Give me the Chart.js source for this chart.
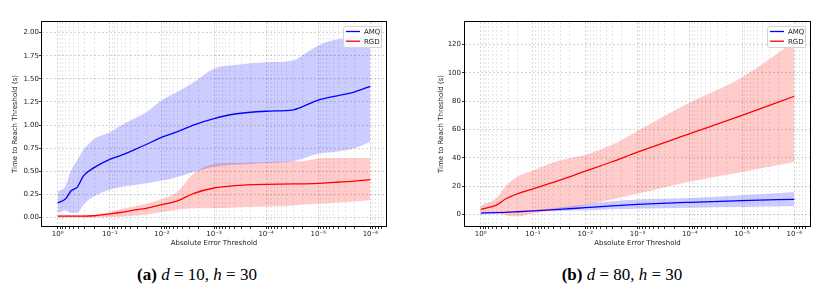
<!DOCTYPE html>
<html>
<head>
<meta charset="utf-8">
<script src="https://cdn.jsdelivr.net/npm/chart.js@4.4.0/dist/chart.umd.min.js"></script>
<style>
  body { margin: 0; background: #fff; width: 827px; height: 291px; position: relative; overflow: hidden; }
  canvas { position: absolute; top: 0; }
  #ca { left: 0; }
  #cb { left: 414px; }
  .cap { position: absolute; top: 265px; font-family: "Liberation Serif", "Times New Roman", serif; font-size: 17px;
         line-height: 20px; white-space: nowrap; transform: translateX(-50%); color: #000; }
</style>
</head>
<body>
<canvas id="ca" width="414" height="258"></canvas>
<canvas id="cb" width="413" height="258"></canvas>
<div class="cap" style="left:197px"><b>(a)</b> <i>d</i> = 10, <i>h</i> = 30</div>
<div class="cap" style="left:622px"><b>(b)</b> <i>d</i> = 80, <i>h</i> = 30</div>
<script>
// ---- data: panel (a) d=10 ----
const thrA = [1, 0.71, 0.55, 0.42, 0.32, 0.2, 0.1, 0.063, 0.035, 0.02, 0.01, 0.005, 0.0025, 0.001,
  0.0004, 1e-4, 3e-5, 2.2e-5, 1e-5, 5e-6, 2e-6, 1e-6];
const amqMeanA = [0.16, 0.2, 0.29, 0.33, 0.45, 0.54, 0.63, 0.67, 0.73, 0.79, 0.87, 0.93, 1.0, 1.07,
  1.12, 1.15, 1.165, 1.19, 1.27, 1.31, 1.36, 1.42];
const amqHiA = [0.28, 0.34, 0.51, 0.62, 0.73, 0.85, 0.92, 0.99, 1.07, 1.14, 1.27, 1.36, 1.46, 1.61,
  1.65, 1.68, 1.70, 1.74, 1.86, 1.92, 1.95, 1.97];
const amqLoA = [0.05, 0.08, 0.05, 0.05, 0.14, 0.23, 0.30, 0.33, 0.35, 0.37, 0.40, 0.44, 0.49, 0.55,
  0.57, 0.59, 0.61, 0.63, 0.69, 0.71, 0.75, 0.82];
const rgdMeanA = [0.015, 0.015, 0.015, 0.015, 0.015, 0.02, 0.04, 0.055, 0.08, 0.1, 0.14, 0.18, 0.26, 0.32,
  0.345, 0.36, 0.365, 0.365, 0.37, 0.38, 0.395, 0.41];
const rgdHiA = [0.025, 0.025, 0.025, 0.025, 0.025, 0.03, 0.06, 0.09, 0.12, 0.15, 0.2, 0.28, 0.47, 0.58,
  0.59, 0.60, 0.61, 0.61, 0.64, 0.645, 0.645, 0.645];
const rgdLoA = [0, 0, 0, 0, 0, 0, 0.005, 0.01, 0.02, 0.03, 0.06, 0.085, 0.1, 0.1,
  0.11, 0.12, 0.13, 0.14, 0.15, 0.16, 0.175, 0.19];

// ---- data: panel (b) d=80 ----
const thrB = [1, 0.5, 0.33, 0.2, 0.1, 0.0316, 0.01, 0.00316, 0.001, 1e-4, 1e-5, 1e-6];
const rgdMeanB = [3.5, 6.5, 11, 14.5, 18, 24, 30.5, 37, 44, 57, 70, 83.5];
const rgdHiB = [6.4, 11.5, 20, 26.5, 31, 38, 42, 49, 59, 79, 97, 122];
const rgdLoB = [1.6, 1.7, -0.7, -1.6, 0.5, 3.5, 6.4, 10.5, 14.6, 23, 30, 37];
const amqMeanB = [0.9, 1.2, 1.4, 1.8, 2.4, 3.5, 4.7, 5.9, 7, 8.5, 9.7, 10.6];
const amqHiB = [1.6, 1.8, 2.0, 2.3, 2.8, 4.8, 7, 9, 10.4, 11.5, 13.4, 15.8];
const amqLoB = [0.5, 0.8, 1.0, 1.4, 1.9, 2.4, 2.8, 3.5, 4, 4.7, 5.2, 5.7];

// ---- ticks ----
const xMajor = [1, 1e-1, 1e-2, 1e-3, 1e-4, 1e-5, 1e-6];
const xLabels = ["10\u2070", "10\u207b\u00b9", "10\u207b\u00b2", "10\u207b\u00b3", "10\u207b\u2074", "10\u207b\u2075", "10\u207b\u2076"];
const yTicksA = [0, 0.25, 0.5, 0.75, 1.0, 1.25, 1.5, 1.75, 2.0];
const yTicksB = [0, 20, 40, 60, 80, 100, 120];

const BLUE = "#0000ff", RED = "#ff0000";
const BLUE_BAND = "rgba(0,0,255,0.2)", RED_BAND = "rgba(255,0,0,0.2)";
const FONT = { family: "DejaVu Sans", size: 7 };

function pts(xs, ys) { return xs.map((x, i) => ({ x: x, y: ys[i] })); }
function majorIdx(v) {
  const l = -Math.log10(v);
  const r = Math.round(l);
  return Math.abs(l - r) < 1e-6 ? r : -1;
}

// axes frame on all four sides
const frame = {
  id: "frame",
  afterDraw(chart) {
    const a = chart.chartArea, ctx = chart.ctx;
    ctx.save();
    ctx.strokeStyle = "#000"; ctx.lineWidth = 1;
    ctx.strokeRect(Math.round(a.left) - 0.5, Math.round(a.top) - 0.5,
      Math.round(a.right - a.left) + 1, Math.round(a.bottom - a.top) + 1);
    ctx.restore();
  }
};

// legend drawn inside the axes, upper right
const inLegend = {
  id: "inLegend",
  afterDraw(chart) {
    const items = chart.data.datasets.filter(d => d.inLegend);
    const a = chart.chartArea, ctx = chart.ctx;
    const w = 38, h = 21, x = Math.round(a.right - 5 - w), y = Math.round(a.top + 4);
    ctx.save();
    ctx.fillStyle = "rgba(255,255,255,0.85)";
    ctx.strokeStyle = "#d4d4d4"; ctx.lineWidth = 1;
    ctx.beginPath();
    ctx.roundRect(x + 0.5, y + 0.5, w, h, 2);
    ctx.fill(); ctx.stroke();
    ctx.font = "7px 'DejaVu Sans'";
    ctx.textBaseline = "middle";
    items.forEach((d, i) => {
      const ly = y + 5.5 + i * 9.7;
      ctx.strokeStyle = d.borderColor; ctx.lineWidth = 1.3;
      ctx.beginPath(); ctx.moveTo(x + 3, ly); ctx.lineTo(x + 17, ly); ctx.stroke();
      ctx.fillStyle = "#222";
      ctx.fillText(d.label, x + 21, ly + 0.5);
    });
    ctx.restore();
  }
};

function band(xs, hi, lo, color) {
  return [
    { data: pts(xs, hi), borderWidth: 0, pointRadius: 0, fill: false, cubicInterpolationMode: "monotone" },
    { data: pts(xs, lo), borderWidth: 0, pointRadius: 0, fill: "-1", backgroundColor: color,
      cubicInterpolationMode: "monotone" }
  ];
}
function line(label, xs, ys, color) {
  return { label: label, inLegend: true, data: pts(xs, ys), borderColor: color, borderWidth: 1.3,
    pointRadius: 0, fill: false, cubicInterpolationMode: "monotone" };
}

function makeChart(id, o) {
  return new Chart(document.getElementById(id), {
    type: "line",
    data: { datasets: o.datasets },
    plugins: [frame, inLegend],
    options: {
      responsive: false, animation: false,
      layout: { padding: { left: 0, top: 22, right: o.padRight, bottom: 0 } },
      plugins: { legend: { display: false }, tooltip: { enabled: false } },
      scales: {
        x: {
          type: "logarithmic", reverse: true,
          min: Math.pow(10, -6.3), max: Math.pow(10, 0.3),
          afterBuildTicks: s => {
            const t = [];
            for (let n = -7; n <= 0; n++) for (let k = 1; k <= 9; k++) {
              const v = k * Math.pow(10, n);
              if (v >= s.min * 0.9999 && v <= s.max * 1.0001) t.push({ value: v });
            }
            s.ticks = t;
          },
          afterFit: s => { s.height = 32; },
          ticks: {
            autoSkip: false, maxRotation: 0, minRotation: 0, padding: 1, font: FONT, color: "#222",
            callback: v => { const i = majorIdx(v); return i >= 0 && i < xLabels.length ? xLabels[i] : ""; }
          },
          grid: {
            tickLength: 3, tickColor: "#000", lineWidth: 0.8,
            color: c => (c.tick && majorIdx(c.tick.value) >= 0) ? "rgba(0,0,0,0.22)" : "rgba(0,0,0,0.13)"
          },
          border: { display: false, dash: [2, 2] },
          title: { display: true, text: "Absolute Error Threshold", font: FONT, color: "#222",
            padding: { top: 0, bottom: 10.8 } }
        },
        y: {
          min: o.yMin, max: o.yMax,
          afterBuildTicks: s => { s.ticks = o.yTicks.map(v => ({ value: v })); },
          afterFit: s => { s.width = o.yWidth; },
          ticks: { font: FONT, color: "#222", padding: o.yPad, callback: o.yFmt },
          grid: { tickLength: 3, tickColor: "#000", lineWidth: 0.8, color: "rgba(0,0,0,0.22)" },
          border: { display: false, dash: [2, 2] },
          title: { display: true, text: "Time to Reach Threshold (s)", font: FONT, color: "#222",
            padding: { top: o.yTitlePad, bottom: 0 } }
        }
      }
    }
  });
}

makeChart("ca", {
  datasets: [].concat(
    band(thrA, amqHiA, amqLoA, BLUE_BAND),
    band(thrA, rgdHiA, rgdLoA, RED_BAND),
    [line("AMQ", thrA, amqMeanA, BLUE), line("RGD", thrA, rgdMeanA, RED)]
  ),
  padRight: 28, yWidth: 42, yPad: 0, yTitlePad: 10.8,
  yMin: -0.091, yMax: 2.115, yTicks: yTicksA, yFmt: v => Number(v).toFixed(2)
});

makeChart("cb", {
  datasets: [].concat(
    band(thrB, amqHiB, amqLoB, BLUE_BAND),
    band(thrB, rgdHiB, rgdLoB, RED_BAND),
    [line("AMQ", thrB, amqMeanB, BLUE), line("RGD", thrB, rgdMeanB, RED)]
  ),
  padRight: 17, yWidth: 51, yPad: 1, yTitlePad: 22.5,
  yMin: -8.27, yMax: 136, yTicks: yTicksB, yFmt: v => String(v)
});
</script>
</body>
</html>
